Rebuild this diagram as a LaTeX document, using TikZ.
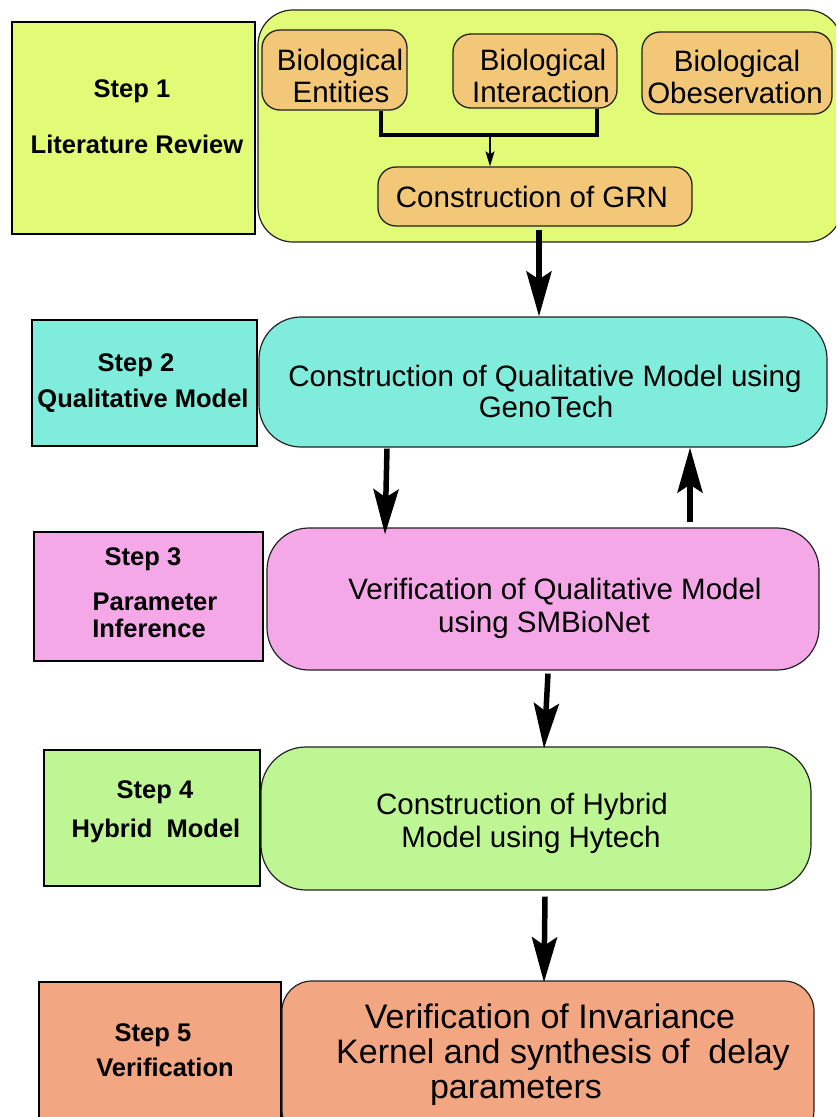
\documentclass[tikz,border=0pt]{standalone}
\usepackage{fontspec}
\setmainfont{Liberation Sans}
\usetikzlibrary{arrows.meta}

\definecolor{litcol}{HTML}{E2FB76}
\definecolor{itemcol}{HTML}{F2C878}
\definecolor{qualcol}{HTML}{80ECDC}
\definecolor{paramcol}{HTML}{F4A8E8}
\definecolor{hybcol}{HTML}{BEF694}
\definecolor{vercol}{HTML}{F3A682}
\definecolor{edgecol}{HTML}{222222}

\newcommand\stepfnt{\bfseries\fontsize{25.5}{30}\selectfont}
\newcommand\mainfnt{\fontsize{29.5}{32}\selectfont}
\newcommand\bigfnt{\fontsize{34}{36}\selectfont}

\begin{document}
\begin{tikzpicture}[x=1pt,y=-1pt,
  stepbox/.style={draw=black, line width=2.5pt, rectangle, inner sep=0pt},
  phasebox/.style={draw=edgecol, line width=1.2pt, rectangle, inner sep=0pt},
  itembox/.style={draw=edgecol, line width=1.3pt, fill=itemcol, rectangle, inner sep=0pt, rounded corners=18pt},
  steptxt/.style={anchor=base, inner sep=0pt, font=\stepfnt},
  maintxt/.style={anchor=base, inner sep=0pt, font=\mainfnt},
  bigtxt/.style={anchor=base, inner sep=0pt, font=\bigfnt},
  bigarrow/.style={line width=5.5pt, -{Stealth[length=45pt,width=25pt,inset=8pt]}},
  thinarrow/.style={line width=1.5pt, -{Stealth[length=15pt,width=9pt,inset=3pt]}},
  joinline/.style={line width=3.5pt}]

\useasboundingbox (0,0) rectangle (836,1117);
\clip (0,0) rectangle (836,1117);

% ---------- Step 1: literature review ----------
\node[phasebox, fill=litcol, rounded corners=35pt, minimum width=584pt, minimum height=232pt] (cont) at (550,126) {};
\node[stepbox, fill=litcol, minimum width=243pt, minimum height=212pt] (step1) at (133.5,128) {};
\node[steptxt] (s1a) at (132,97) {Step 1};
\node[steptxt] (s1b) at (137,153) {Literature Review};

\node[itembox, minimum width=145pt, minimum height=80pt] (ent) at (334.5,70) {};
\node[itembox, minimum width=164pt, minimum height=74pt] (inter) at (535,71) {};
\node[itembox, minimum width=190pt, minimum height=82pt] (obs) at (737,73) {};
\node[itembox, minimum width=314pt, minimum height=59pt] (grn) at (535,196.5) {};

\node[maintxt] (e1) at (340,70) {Biological};
\node[maintxt] (e2) at (341,102) {Entities};
\node[maintxt] (i1) at (543,70) {Biological};
\node[maintxt] (i2) at (541,102) {Interaction};
\node[maintxt] (o1) at (737,71) {Biological};
\node[maintxt] (o2) at (735,103) {Obeservation};
\node[maintxt] (g1) at (532,207) {Construction of GRN};

% joining bracket under the two input boxes
\coordinate (jl) at (381,135);
\coordinate (jr) at (597,135);
\coordinate (jm) at (490,135);
\draw[joinline] (ent.south -| jl) -- (jl) -- (jr) -- (inter.south -| jr);
\draw[thinarrow] (jm) -- (jm |- grn.north);

% ---------- Step 2: qualitative model ----------
\node[stepbox, fill=qualcol, minimum width=225pt, minimum height=126pt] (step2) at (144.5,383) {};
\node[phasebox, fill=qualcol, rounded corners=42pt, minimum width=568pt, minimum height=130pt] (qual) at (543,382) {};
\node[steptxt] (s2a) at (136,371) {Step 2};
\node[steptxt] (s2b) at (143,407) {Qualitative Model};
\node[maintxt] (q1) at (545,386) {Construction of Qualitative Model using};
\node[maintxt] (q2) at (546,417) {GenoTech};

% ---------- Step 3: parameter inference ----------
\node[stepbox, fill=paramcol, minimum width=229pt, minimum height=129pt] (step3) at (148.5,596.5) {};
\node[phasebox, fill=paramcol, rounded corners=42pt, minimum width=552pt, minimum height=142pt] (verif) at (543,599) {};
\node[steptxt] (s3a) at (143,565) {Step 3};
\node[steptxt] (s3b) at (155,610) {Parameter};
\node[steptxt] (s3c) at (149,637) {Inference};
\node[maintxt] (v1) at (555,599) {Verification of Qualitative Model};
\node[maintxt] (v2) at (544,632) {using SMBioNet};

% ---------- Step 4: hybrid model ----------
\node[stepbox, fill=hybcol, minimum width=216pt, minimum height=136pt] (step4) at (152,818) {};
\node[phasebox, fill=hybcol, rounded corners=45pt, minimum width=550pt, minimum height=143pt] (hyb) at (536,818.5) {};
\node[steptxt] (s4a) at (155,798) {Step 4};
\node[steptxt] (s4b) at (156,837) {Hybrid\ \ Model};
\node[maintxt] (h1) at (522,814) {Construction of Hybrid};
\node[maintxt] (h2) at (531,847) {Model using Hytech};

% ---------- Step 5: verification ----------
\node[stepbox, fill=vercol, minimum width=242pt, minimum height=158pt] (step5) at (160,1061) {};
\node[phasebox, fill=vercol, rounded corners=30pt, minimum width=532pt, minimum height=159pt] (fin) at (548,1060.5) {};
\node[steptxt] (s5a) at (153,1041) {Step 5};
\node[steptxt] (s5b) at (165,1076) {Verification};
\node[bigtxt] (f1) at (550,1028) {Verification of Invariance};
\node[bigtxt] (f2) at (563,1063) {Kernel and synthesis of\ \ delay};
\node[bigtxt] (f3) at (516,1098) {parameters};

% ---------- flow between the steps ----------
\coordinate (ga) at ([xshift=4pt,yshift=-3pt]grn.south);
\draw[bigarrow] (ga) -- (ga |- qual.north);
\draw[bigarrow] ([xshift=-156pt,yshift=-1pt]qual.south) -- ([xshift=-158pt,yshift=-7pt]verif.north);
\draw[bigarrow] ([xshift=147pt,yshift=5pt]verif.north) -- ([xshift=147pt]qual.south);
\draw[bigarrow] ([xshift=5pt,yshift=-3pt]verif.south) -- ([xshift=8pt,yshift=-2pt]hyb.north);
\draw[bigarrow] ([xshift=9pt,yshift=-6pt]hyb.south) -- ([xshift=-4pt,yshift=-2pt]fin.north);

\end{tikzpicture}
\end{document}
